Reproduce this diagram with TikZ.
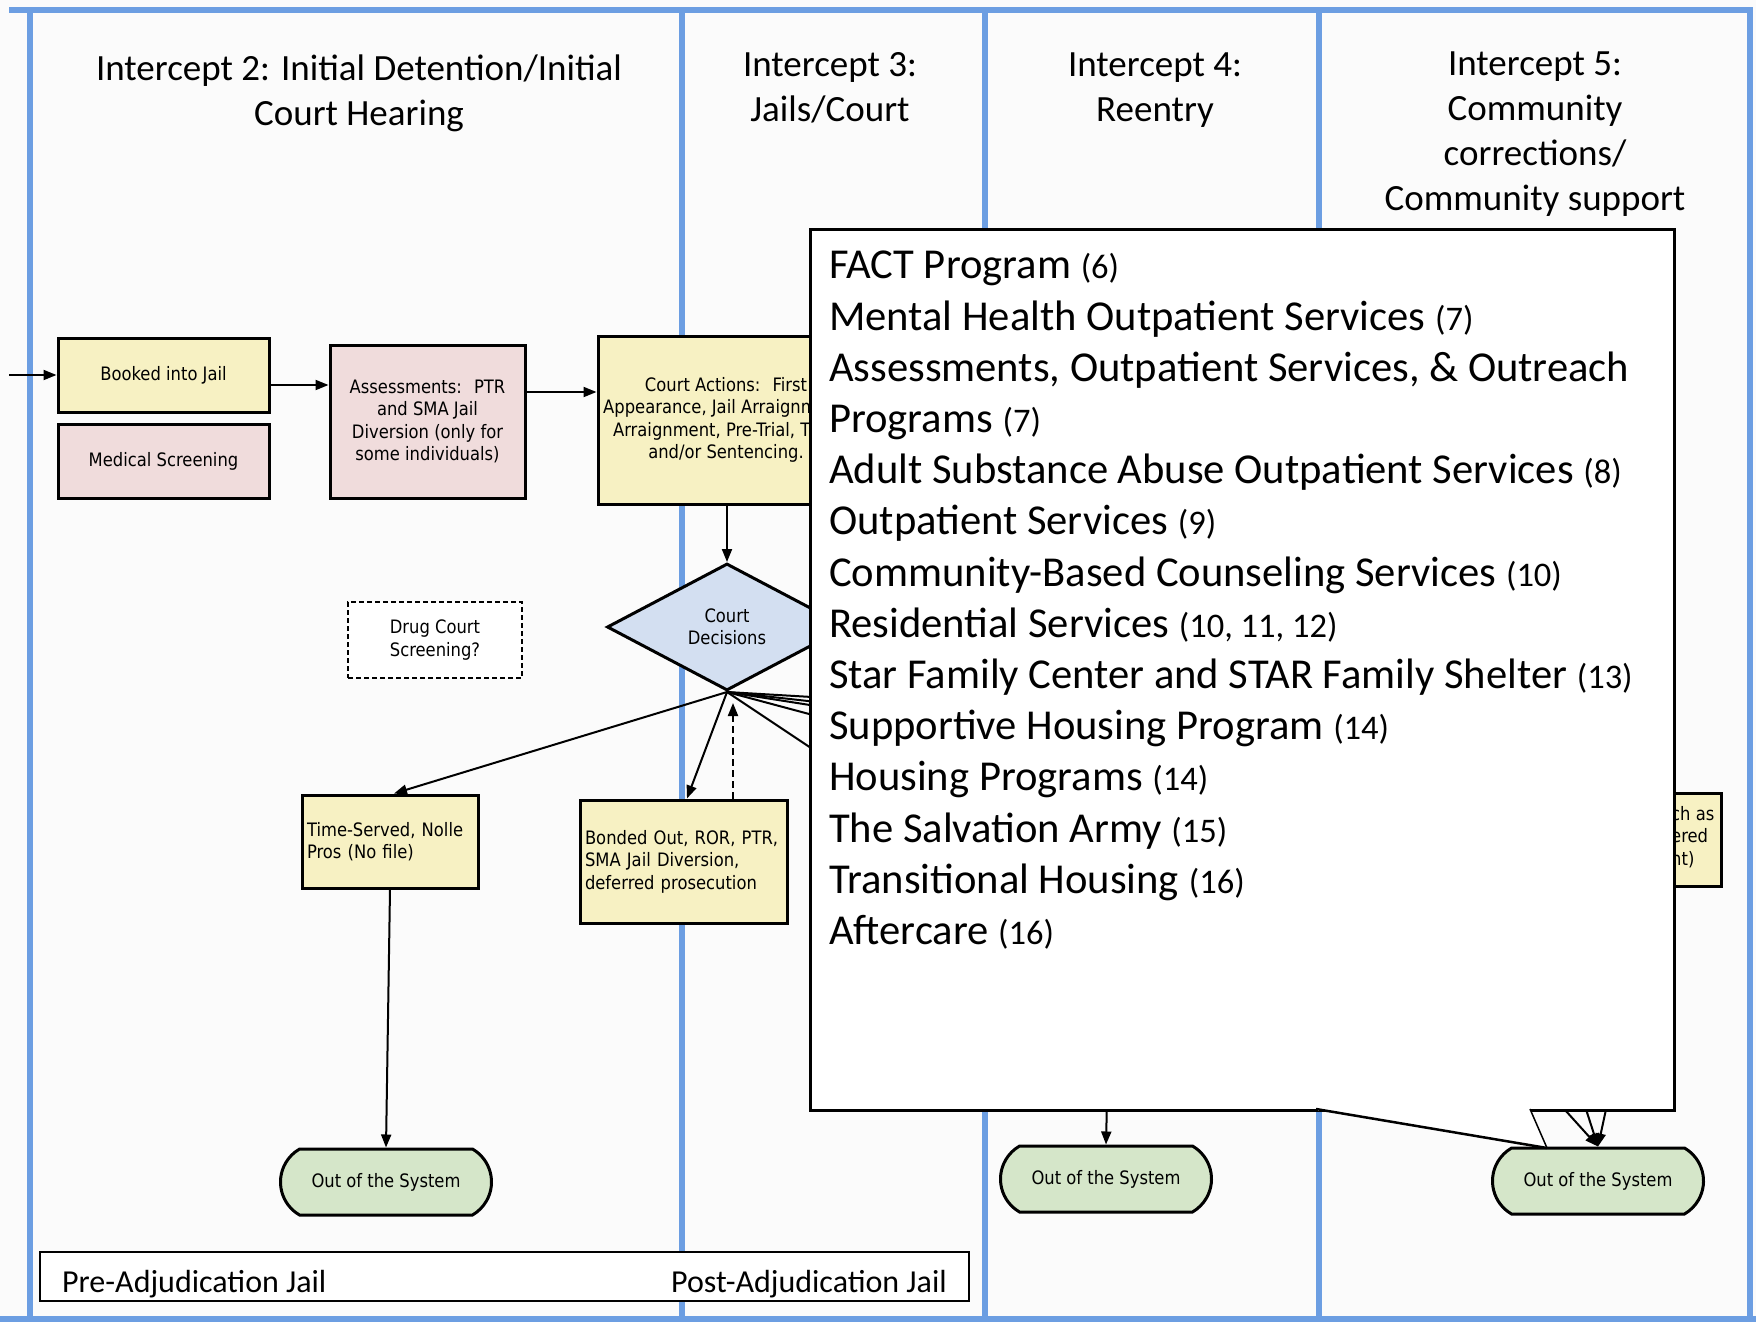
\documentclass[tikz,border=0pt]{standalone}
\usepackage{fontspec}
\setmainfont{Carlito}
\newfontfamily\nfont[FakeStretch=0.885]{DejaVu Sans}
\usetikzlibrary{arrows.meta,shapes.geometric,shapes.misc,calc}
\definecolor{lanec}{RGB}{108,158,226}
\definecolor{bgc}{RGB}{251,251,251}
\definecolor{yelc}{RGB}{247,241,195}
\definecolor{pinkc}{RGB}{240,220,220}
\definecolor{bluc}{RGB}{211,223,241}
\definecolor{grnc}{RGB}{213,230,201}
\newcommand{\ppn}[1]{{\fontsize{34.5}{34.5}\selectfont(#1)}}
\begin{document}
\begin{tikzpicture}[x=1pt,y=-1pt,
  lane/.style={draw=lanec,line width=6pt},
  nbox/.style={draw=black,line width=3pt,inner sep=4pt,font=\nfont\fontsize{18.5}{22.5}\selectfont},
  ybox/.style={nbox,fill=yelc},
  pbox/.style={nbox,fill=pinkc},
  oos/.style={nbox,fill=grnc,rounded rectangle,rounded rectangle arc length=120,minimum width=219,minimum height=66},
  conn/.style={line width=2pt,-{Triangle[length=13pt,width=10pt]}},
  hdr/.style={align=center,inner sep=0pt,font=\fontsize{37}{45}\selectfont},
]
\useasboundingbox (0,0) rectangle (1756,1322);
\fill[bgc] (0,0) rectangle (1756,1322);
% lanes
\draw[lane] (9,10) -- (1753,10);
\draw[lane] (0,1319) -- (1756,1319);
\draw[lane] (30,10) -- (30,1322);
\draw[lane] (682,10) -- (682,1322);
\draw[lane] (985,10) -- (985,1322);
\draw[lane] (1319,10) -- (1319,1322);
\draw[lane] (1750,10) -- (1750,1322);
% headers
\node[hdr] (h2) at (359,93) {Intercept 2: Initial Detention/Initial\\Court Hearing};
\node[hdr] (h3) at (830,87.5) {Intercept 3:\\Jails/Court};
\node[hdr] (h4) at (1155,90) {Intercept 4:\\Reentry};
\node[hdr] (h5) at (1535,134.5) {Intercept 5:\\Community\\corrections/\\Community support};
% nodes
\node[ybox,minimum width=211,minimum height=74] (booked) at (163.5,375) {Booked into Jail};
\node[pbox,minimum width=211,minimum height=74] (medical) at (163.5,461) {Medical Screening};
\node[pbox,minimum width=195,minimum height=153,align=center] (assess) at (427.5,421.5) {Assessments:~ PTR\\and SMA Jail\\Diversion (only for\\some individuals)};
\node[ybox,minimum width=256,minimum height=168,align=center] (court) at (726,420) {Court Actions:~ First\\Appearance, Jail Arraignment,\\Arraignment, Pre-Trial, Trial,\\and/or Sentencing.};
\node[nbox,fill=bluc,diamond,aspect=1.89,minimum width=240,minimum height=127,inner sep=0pt,align=center] (dec) at (727,627) {Court\\Decisions};
\node[nbox,line width=2pt,dash pattern=on 5pt off 3pt,fill=white,minimum width=174,minimum height=76,align=center] (drug) at (435,640) {Drug Court\\Screening?};
\node[ybox,minimum width=176,minimum height=93,align=left,text width=166] (ts) at (390,841.5) {Time-Served, Nolle\\Pros (No file)};
\node[ybox,minimum width=207,minimum height=123,align=left,text width=197,inner sep=5pt] (bonded) at (683.5,861.5) {Bonded Out, ROR, PTR,\\SMA Jail Diversion,\\deferred prosecution};
\node[ybox,minimum width=141,minimum height=93,inner sep=0pt] (probox) at (1650.5,839.5) {};
\node[anchor=north west,align=left,inner sep=0pt,font=\nfont\fontsize{18.5}{22.5}\selectfont] (protext) at (1671,806) {ch as\\ered\\nt)};
\node[oos] (out2) at (386,1182) {Out of the System};
\node[oos] (out4) at (1106,1179) {Out of the System};
\node[oos] (out5) at (1598,1181) {Out of the System};
% legend
\node[draw,line width=2pt,fill=white,minimum width=929,minimum height=49,inner sep=0pt] (legend) at (504.5,1276.5) {};
\node[anchor=west,inner sep=0pt,font=\fontsize{32}{38}\selectfont] (pre) at (62,1284.5) {Pre-Adjudication Jail};
\node[anchor=east,inner sep=0pt,font=\fontsize{32}{38}\selectfont] (post) at (947,1284.5) {Post-Adjudication Jail};
% coordinates
\coordinate (entry) at (9,375);
\coordinate (dashtip) at (733,703);
\coordinate (r1) at (880,701);
\coordinate (r2) at (880,709);
\coordinate (r3) at (880,716);
\coordinate (r4) at (880,733);
\coordinate (r5) at (880,794);
\coordinate (m1) at (1107,1100);
\coordinate (s1) at (1556,1100);
\coordinate (s2) at (1583,1100);
\coordinate (s3) at (1608,1100);
% connectors
\draw[conn] (entry) -- (booked.west);
\draw[conn] (booked.east |- 0,385) -- (assess.west |- 0,385);
\draw[conn] (assess.east |- 0,392) -- (court.west |- 0,392);
\draw[conn] (court.south -| 727,0) -- (dec.north);
\draw[conn] (dec.south) -- (ts.north -| 394,0);
\draw[conn] (dec.south) -- (bonded.north -| 687,0);
\draw[conn,dash pattern=on 7pt off 4pt] (bonded.north -| 733,0) -- (dashtip);
\foreach \r in {r1,r2,r3,r4,r5} \draw[line width=2pt] (dec.south) -- (\r);
\draw[conn] (ts.south) -- (out2.north);
\draw[conn] (m1) -- (out4.north);
\draw[conn] (s1) -- (out5.north);
\draw[conn] (s2) -- (out5.north);
\draw[conn] (s3) -- (out5.north);
% callout
\node[draw,line width=2.5pt,fill=white,minimum width=864,minimum height=881,inner sep=0pt,anchor=north west] (callout) at (809,228) {};
\coordinate (tipA) at (1316,1109);
\coordinate (tipB) at (1530,1109);
\coordinate (tip) at (1547,1148);
\fill[white] (1318,1107.5) rectangle (1528,1111);
\fill[white] (tipA) -- (tip) -- (tipB) -- cycle;
\draw[line width=2.5pt] (tipA) -- (tip);
\draw[line width=1.5pt] (tipB) -- (tip);
\node[anchor=north west,align=left,inner sep=0pt,font=\fontsize{42.6}{51.2}\selectfont] (services) at (829,251) {FACT Program \ppn{6}\\
Mental Health Outpatient Services \ppn{7}\\
Assessments, Outpatient Services, \& Outreach\\
Programs \ppn{7}\\
Adult Substance Abuse Outpatient Services \ppn{8}\\
Outpatient Services \ppn{9}\\
Community-Based Counseling Services \ppn{10}\\
Residential Services \ppn{10, 11, 12}\\
Star Family Center and STAR Family Shelter \ppn{13}\\
Supportive Housing Program \ppn{14}\\
Housing Programs \ppn{14}\\
The Salvation Army \ppn{15}\\
Transitional Housing \ppn{16}\\
Aftercare \ppn{16}};
\end{tikzpicture}
\end{document}
